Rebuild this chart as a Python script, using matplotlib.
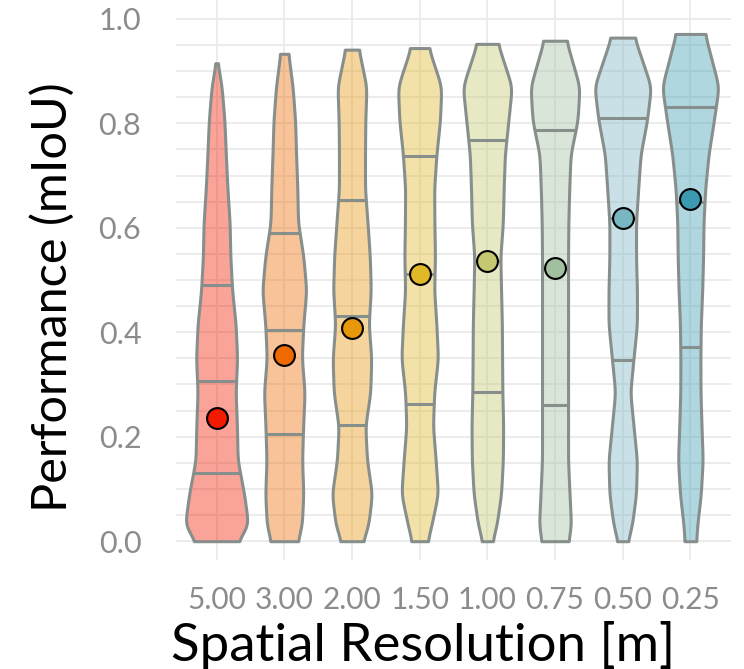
import numpy as np
import matplotlib
matplotlib.use("Agg")
import matplotlib.pyplot as plt
from matplotlib.colors import to_rgba

plt.rcParams['font.family'] = ['Lato', 'DejaVu Sans']

# ---------------------------------------------------------------- data
resolutions = ["5.00", "3.00", "2.00", "1.50", "1.00", "0.75", "0.50", "0.25"]

colors = ['#F21A00', '#EE6A00', '#E8970A', '#E0B828',
          '#C4C870', '#A0C0A0', '#78B6C2', '#3B9AB2']

means = [0.236, 0.356, 0.408, 0.511, 0.536, 0.523, 0.619, 0.655]

q25 = [0.131, 0.205, 0.222, 0.262, 0.285, 0.261, 0.347, 0.372]
q50 = [0.307, 0.404, 0.431, 0.511, 0.536, 0.523, 0.619, 0.650]
q75 = [0.490, 0.590, 0.653, 0.738, 0.768, 0.787, 0.810, 0.831]

v_max = [0.915, 0.933, 0.941, 0.944, 0.952, 0.958, 0.964, 0.971]
v_min = [0.0, 0.0, 0.0, 0.0, 0.0, 0.0, 0.0, 0.0]

# density profile (half widths) at shared levels
levels = [0.87, 0.805, 0.74, 0.675, 0.61, 0.545, 0.48, 0.415, 0.35, 0.285, 0.22, 0.155, 0.09, 0.03]

dens_top = [1.0, 4.0, 6.7, 9.0, 10.5, 11.3, 11.7, 14.5]
dens_bottom = [21.0, 13.3, 10.8, 7.8, 5.0, 13.3, 5.0, 5.8]
dens = [
    [5.0, 7.8, 9.2, 10.8, 13.0, 13.7, 15.5, 19.0, 20.5, 19.0, 20.3, 21.0, 27.5, 31.7],
    [8.3, 10.8, 11.8, 13.0, 13.7, 19.0, 22.0, 19.0, 17.5, 20.3, 18.8, 17.8, 19.0, 17.5],
    [14.5, 13.3, 13.0, 13.0, 15.5, 17.8, 18.8, 16.7, 19.3, 18.3, 13.3, 15.0, 20.0, 16.3],
    [21.7, 20.3, 16.7, 14.5, 14.7, 15.3, 14.5, 16.7, 18.3, 14.5, 13.3, 16.0, 18.3, 11.7],
    [24.5, 21.0, 17.5, 16.3, 15.5, 13.0, 13.7, 14.5, 14.7, 15.0, 15.8, 15.5, 13.7, 9.2],
    [24.5, 22.5, 15.5, 14.2, 13.3, 13.0, 13.0, 13.0, 13.0, 13.0, 13.0, 13.0, 14.5, 16.0],
    [28.3, 24.2, 17.8, 15.5, 13.3, 13.3, 14.2, 14.2, 10.8, 7.5, 10.8, 14.2, 13.3, 9.2],
    [28.3, 23.4, 18.1, 14.8, 13.1, 12.7, 11.8, 10.4, 10.0, 10.1, 11.1, 12.3, 10.4, 6.8],
]

# ---------------------------------------------------------------- helpers
PX_PER_CAT = 67.6
EDGE = '#878f8c'


def violin_outline(i, n=400, sigma=0.012):
    lv = np.array([v_max[i]] + levels + [v_min[i]])[::-1]
    hw = np.array([dens_top[i]] + dens[i] + [dens_bottom[i]])[::-1] / PX_PER_CAT
    y = np.linspace(v_min[i], v_max[i], n)
    w = np.interp(y, lv, hw)
    step = y[1] - y[0]
    k = int(3 * sigma / step)
    ker = np.exp(-0.5 * (np.arange(-k, k + 1) * step / sigma) ** 2)
    ker /= ker.sum()
    wp = np.concatenate([np.full(k, w[0]), w, np.full(k, w[-1])])
    w = np.convolve(wp, ker, mode='valid')
    return y, w


# ---------------------------------------------------------------- plot
fig = plt.figure(figsize=(7.44, 6.69), dpi=100)
ax = fig.add_axes([176 / 744, 1 - 560 / 669, 555 / 744, 560 / 669])

pos = np.arange(len(resolutions))
ax.set_xlim(-0.6, len(resolutions) - 0.4)
ax.set_ylim(-0.036, 1.036)

for yy in np.arange(0, 1.0001, 0.05):
    ax.axhline(yy, color='#EBEBEB', lw=1.3, zorder=0)
for xx in pos:
    ax.axvline(xx, color='#EBEBEB', lw=1.3, zorder=0)

for i, p in enumerate(pos):
    y, w = violin_outline(i)
    ax.fill_betweenx(y, p - w, p + w, facecolor=to_rgba(colors[i], 0.4),
                     edgecolor=EDGE, lw=2.2, zorder=2)
    for q in (q25[i], q50[i], q75[i]):
        hq = np.interp(q, y, w)
        ax.plot([p - hq, p + hq], [q, q], color=EDGE, lw=2.2, zorder=3,
                solid_capstyle='butt')
    ax.plot(p, means[i], 'o', ms=15, mfc=colors[i], mec='black', mew=1.5, zorder=4)

for s in ax.spines.values():
    s.set_visible(False)

ax.set_xticks(pos)
ax.set_xticklabels(resolutions)
ax.set_yticks([0, 0.2, 0.4, 0.6, 0.8, 1.0])
ax.set_yticklabels(["0.0", "0.2", "0.4", "0.6", "0.8", "1.0"])
ax.tick_params(axis='both', length=0, labelcolor='#8c8c8c')
ax.tick_params(axis='y', pad=25, labelsize=22)
ax.tick_params(axis='x', pad=19, labelsize=21.5)

ax.set_xlabel("Spatial Resolution [m]", fontsize=38, color='black', va='center')
ax.set_ylabel("Performance (mIoU)", fontsize=35, color='black', va='center')
ax.xaxis.set_label_coords(0.445, -0.152)
ax.yaxis.set_label_coords(-0.223, 0.47)

fig.savefig("out.png", dpi=100)
